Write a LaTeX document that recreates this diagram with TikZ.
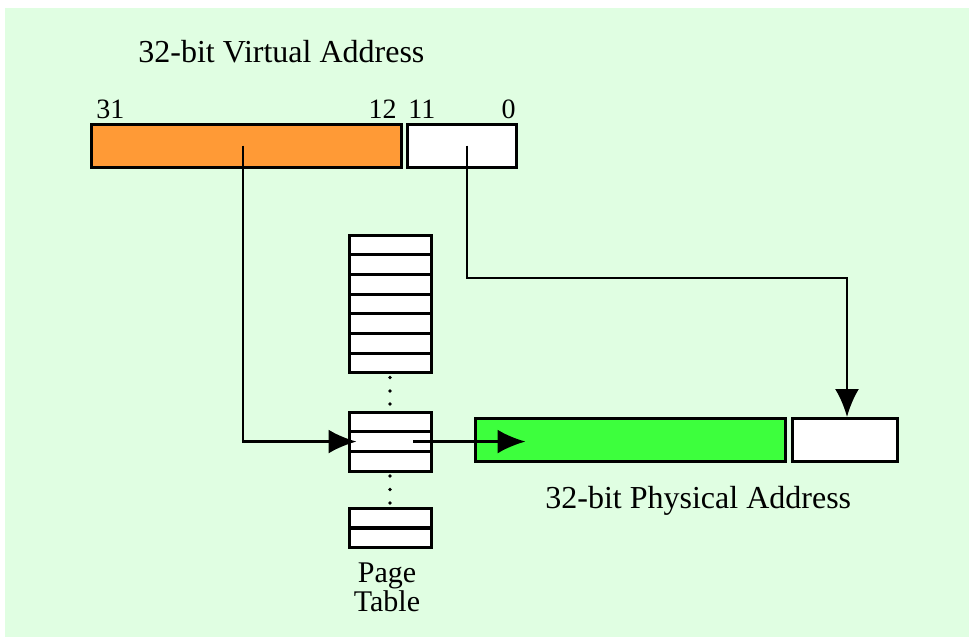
\documentclass[tikz,border=0pt]{standalone}
\usepackage{fontspec}
\setmainfont{Liberation Serif}
\usepackage{tikz}
\usetikzlibrary{arrows.meta, positioning, calc}
\usepackage{xcolor}
\definecolor{pagebg}{HTML}{E0FEE2}
\definecolor{vpnorange}{HTML}{FF9A36}
\definecolor{pfngreen}{HTML}{3DFF3D}

\begin{document}
\begin{tikzpicture}[
  x=0.5pt, y=-0.5pt,
  field/.style={draw, line width=1.5pt, inner sep=0pt, minimum height=21.5pt},
  entry/.style={draw, fill=white, line width=1.5pt, inner sep=0pt,
    minimum width=41pt, minimum height=9.85pt},
  ptr/.style={-{Latex[length=14pt, width=12pt]}, line width=1.4pt},
  bitno/.style={font=\fontsize{14}{16}\selectfont, inner sep=0pt},
  caption/.style={font=\fontsize{16}{19}\selectfont, inner sep=0pt},
  >=Latex
]
  \useasboundingbox (0,0) rectangle (969,637);
  \fill[pagebg] (5,8) rectangle (969,637);

  % Virtual address
  \node[caption, anchor=base west] (vtitle) at (138,62) {32-bit Virtual Address};
  \node[field, fill=vpnorange, minimum width=155pt] (vpn) at (246,145.5) {};
  \node[field, fill=white, minimum width=54.5pt] (voff) at (461.5,145.5) {};
  \node[bitno, anchor=base west] (b31) at (96,118) {31};
  \node[bitno, anchor=base east] (b12) at (397,118) {12};
  \node[bitno, anchor=base west] (b11) at (408,118) {11};
  \node[bitno, anchor=base east] (b0) at (516,118) {0};

  % Page table
  \foreach \i in {1,...,7}
    \node[entry] (t\i) at (390,{235+9.85+19.7*(\i-1)}) {};
  \foreach \i in {1,2,3}
    \node[entry] (m\i) at (390,{412+9.85+19.7*(\i-1)}) {};
  \foreach \i in {1,2}
    \node[entry] (e\i) at (390,{508+10+20*(\i-1)}) {};
  \foreach \y in {377.5,391,404,476,489.5,503}
    \fill (390,\y) circle (0.9pt);
  \node[font=\fontsize{15}{14.5}\selectfont, align=center, inner sep=0pt,
    anchor=north] (ptlbl) at (387,562) {Page\\Table};

  % Physical address
  \node[field, fill=pfngreen, minimum width=155pt] (pfn) at (630,440) {};
  \node[field, fill=white, minimum width=52.5pt] (poff) at (844.5,440) {};
  \node[caption, anchor=base west] (ptitle) at (545,508) {32-bit Physical Address};

  % Connections
  \draw[ptr] ([xshift=-1.5pt]vpn.center) |- ([xshift=4.5pt]m2.west);
  \coordinate (pin) at ([xshift=26pt]pfn.west);
  \draw[ptr] ([xshift=11.5pt]m2.center) -- (pin |- m2.center);
  \coordinate (turn) at (847,278);
  \draw[ptr] ([xshift=2.75pt]voff.center) |- (turn) -- (turn |- poff.north);
\end{tikzpicture}
\end{document}
